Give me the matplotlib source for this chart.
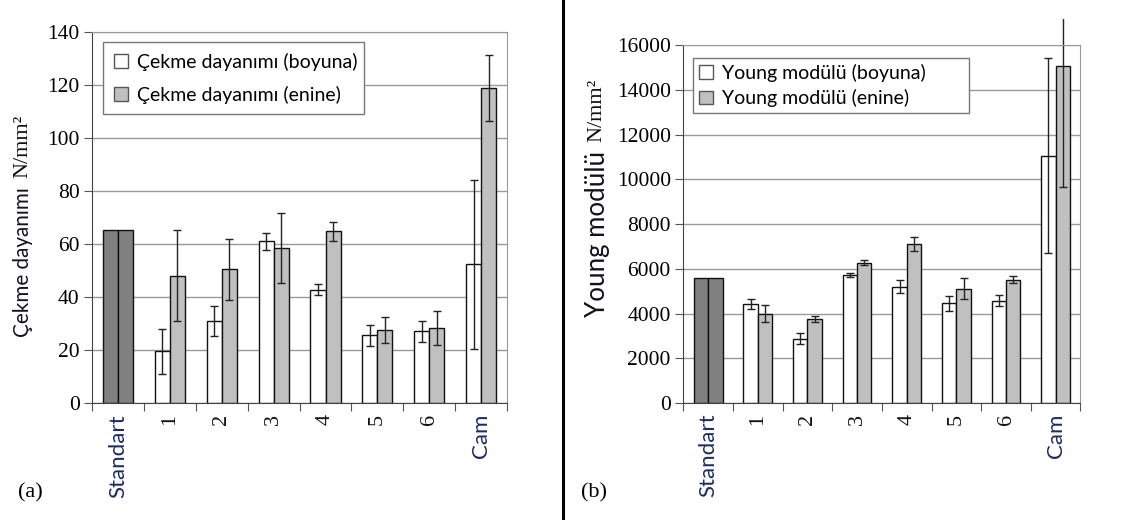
import numpy as np
import matplotlib
matplotlib.use("Agg")
import matplotlib.pyplot as plt
from matplotlib.transforms import Bbox, TransformedBbox

# --- data ---
categories = ["Standart", "1", "2", "3", "4", "5", "6", "Cam"]

tensile_long = [65.5, 19.5, 31.0, 61.0, 42.8, 25.5, 27.0, 52.3]
tensile_long_err = [0, 8.5, 5.8, 3.2, 2.0, 4.0, 3.8, 31.8]
tensile_trans = [65.5, 48.0, 50.5, 58.5, 64.8, 27.5, 28.3, 119.0]
tensile_trans_err = [0, 17.2, 11.5, 13.2, 3.5, 5.0, 6.5, 12.5]

young_long = [5580, 4430, 2870, 5730, 5210, 4460, 4570, 11060]
young_long_err = [0, 230, 250, 100, 300, 340, 250, 4370]
young_trans = [5580, 4000, 3770, 6280, 7110, 5120, 5510, 15060]
young_trans_err = [0, 370, 130, 110, 330, 460, 150, 5420]

SERIF = "Liberation Serif"
SANS = "Lato"
NAVY = "#1c2a6b"
WHITE_BAR = "#ffffff"
GREY_BAR = "#c0c0c0"
DARK_BAR = "#808080"

plt.rcParams["font.family"] = [SERIF, "DejaVu Serif"]

fig = plt.figure(figsize=(11.22, 5.2), dpi=100)
# the original plot area ends just above the axes, so long error bars are cut there
err_clip = TransformedBbox(Bbox([[0, 0], [1, 1 - 19 / 520]]), fig.transFigure)


def draw_panel(ax, long_vals, long_err, trans_vals, trans_err, ymax, ystep, leg_labels,
               leg_box, leg_pad, leg_space):
    x = np.arange(len(categories))
    w = 0.29
    long_colors = [DARK_BAR] + [WHITE_BAR] * (len(categories) - 1)
    trans_colors = [DARK_BAR] + [GREY_BAR] * (len(categories) - 1)

    ax.set_axisbelow(True)
    ax.yaxis.grid(True, color="#9a9a9a", lw=1.0)

    ax.bar(x - w / 2, long_vals, w, color=long_colors, edgecolor="#111111", lw=1.0,
           label=leg_labels[0])
    ax.bar(x + w / 2, trans_vals, w, color=trans_colors, edgecolor="#111111", lw=1.0,
           label=leg_labels[1])

    # error bars (the reference standard has none)
    for off, vals, errs in [(-w / 2, long_vals, long_err), (w / 2, trans_vals, trans_err)]:
        eb = ax.errorbar(x[1:] + off, vals[1:], yerr=errs[1:], fmt="none", ecolor="#222222",
                         elinewidth=1.0, capsize=3, capthick=1.0)
        for art in list(eb.lines[1]) + list(eb.lines[2]):
            art.set_clip_box(err_clip)

    ax.set_xlim(-0.5, len(categories) - 0.5)
    ax.set_ylim(0, ymax)
    yt = np.arange(0, ymax + 1, ystep)
    ax.set_yticks(yt)
    ax.set_yticklabels([str(v) for v in yt], fontfamily=SERIF, fontsize=15.5)
    ax.tick_params(axis="y", length=6, color="#555555", pad=3)

    # ticks at category boundaries, labels drawn at centres
    ax.set_xticks(np.arange(-0.5, len(categories), 1.0))
    ax.set_xticklabels([])
    ax.tick_params(axis="x", length=6, color="#555555")
    tr = ax.get_xaxis_transform()
    for xi, cat in zip(x, categories):
        if cat in ("Standart", "Cam"):
            ax.text(xi, -0.03, cat, transform=tr, rotation=90, ha="center", va="top",
                    family=SANS, fontsize=16, color=NAVY)
        else:
            ax.text(xi, -0.03, cat, transform=tr, rotation=90, ha="center", va="top",
                    family=SERIF, fontsize=16, color="#111111")

    for side in ["top", "right"]:
        ax.spines[side].set_color("#9a9a9a")
    ax.spines["left"].set_color("#444444")
    ax.spines["bottom"].set_color("#444444")

    leg = ax.legend(loc="upper left", bbox_to_anchor=leg_box, mode="expand",
                    prop={"family": SANS, "size": 14}, frameon=True, fancybox=False,
                    edgecolor="#777777", framealpha=1, handlelength=0.7, handleheight=0.7,
                    handletextpad=0.5, borderpad=leg_pad, labelspacing=leg_space,
                    borderaxespad=0)
    leg.get_frame().set_linewidth(1.0)
    for h, c in zip(leg.legend_handles, [WHITE_BAR, GREY_BAR]):
        h.set_edgecolor("#555555")
        h.set_facecolor(c)


ax1 = fig.add_axes([0.082, 0.225, 0.370, 0.713])
draw_panel(ax1, tensile_long, tensile_long_err, tensile_trans, tensile_trans_err, 140, 20,
           ["Çekme dayanımı (boyuna)", "Çekme dayanımı (enine)"],
           (0.027, 0.773, 0.627, 0.2), 0.55, 0.75)

ax2 = fig.add_axes([0.609, 0.225, 0.354, 0.688])
draw_panel(ax2, young_long, young_long_err, young_trans, young_trans_err, 16000, 2000,
           ["Young modülü (boyuna)", "Young modülü (enine)"],
           (0.025, 0.765, 0.695, 0.2), 0.3, 0.4)


def axis_title(xpx, bottom_px, length_px, text):
    # sans part sized to the reference length, serif unit placed just above it
    t = fig.text(xpx / 1122, 1 - bottom_px / 520, text, rotation=90, ha="center",
                 va="bottom", family=SANS, fontsize=16, color="#111122")
    fig.canvas.draw()
    ext = t.get_window_extent()
    t.set_fontsize(16 * length_px / ext.height)
    fig.canvas.draw()
    top = t.get_window_extent().y1
    fig.text(xpx / 1122, (top + 9) / 520, "N/mm²", rotation=90, ha="center",
             va="bottom", family=SERIF, fontsize=16, color="#111111")


axis_title(23, 337, 150, "Çekme dayanımı")
axis_title(597, 317, 166, "Young modülü")

fig.text(0.016, 0.052, "(a)", family=SERIF, fontsize=16, ha="left", va="center")
fig.text(0.518, 0.052, "(b)", family=SERIF, fontsize=16, ha="left", va="center")

# separator between panels
fig.add_artist(plt.Line2D([0.502, 0.502], [0.0, 1.0], color="black", lw=2.2,
                          transform=fig.transFigure))

fig.savefig("out.png", dpi=100)
